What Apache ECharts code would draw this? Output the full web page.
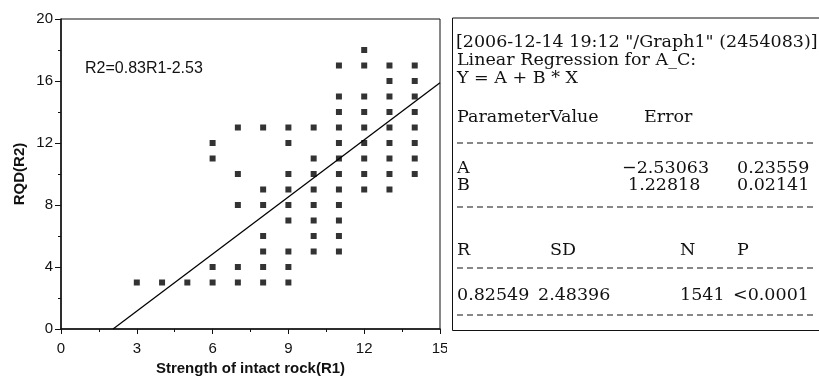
<!DOCTYPE html>
<html>
<head>
<meta charset="utf-8">
<script src="https://cdn.jsdelivr.net/npm/echarts@6/dist/echarts.min.js"></script>
<style>
  html, body { margin: 0; padding: 0; background: #fff; }
  #chart { width: 819px; height: 387px; }
</style>
</head>
<body>
<div id="chart"></div>
<script>
// Intact rock strength (R1) columns and the RQD (R2) values observed in each
const r1Values = [3, 4, 5, 6, 7, 8, 9, 10, 11, 12, 13, 14];
const r2Values = [
  [3],
  [3],
  [3],
  [3, 4, 11, 12],
  [3, 4, 8, 10, 13],
  [3, 4, 5, 6, 8, 9, 13],
  [3, 4, 5, 7, 8, 9, 10, 12, 13],
  [5, 6, 7, 8, 9, 10, 11, 13],
  [5, 6, 7, 8, 9, 10, 11, 12, 13, 14, 15, 17],
  [9, 10, 11, 12, 13, 14, 15, 17, 18],
  [9, 10, 11, 12, 13, 14, 15, 16, 17],
  [10, 11, 12, 13, 14, 15, 16, 17]
];

// Linear fit Y = A + B * X
const fitA = -2.53063;
const fitB = 1.22818;
const fitXMax = 15;

// Axis ranges
const xTicks = { min: 0, max: 15, interval: 3 };
const yTicks = { min: 0, max: 20, interval: 4 };

// Regression report text
const equationLabel = 'R2=0.83R1-2.53';
const reportHeader = [
  '[2006-12-14 19:12 "/Graph1" (2454083)]',
  'Linear Regression for A_C:',
  'Y = A + B * X'
];
const paramHeader = ['ParameterValue', 'Error'];
const paramRows = [
  ['A', '\u22122.53063', '0.23559'],
  ['B', '1.22818', '0.02141']
];
const statHeader = ['R', 'SD', 'N', 'P'];
const statRow = ['0.82549', '2.48396', '1541', '<0.0001'];

const points = [];
r1Values.forEach((x, i) => r2Values[i].forEach(y => points.push([x, y])));
const fitLine = [[-fitA / fitB, 0], [fitXMax, fitA + fitB * fitXMax]];

const serif = '"DejaVu Serif", serif';
const sans = '"Liberation Sans", Arial, sans-serif';
const ink = '#111';

function txt(str, x, y, extra) {
  return Object.assign({
    type: 'text', x: x, y: y, silent: true,
    style: { text: str, fill: ink, font: '17.5px ' + serif, textVerticalAlign: 'middle' }
  }, extra || {});
}
function dash(y) {
  return {
    type: 'line', silent: true,
    shape: { x1: 457, y1: y, x2: 813, y2: y },
    style: { stroke: ink, lineWidth: 1, lineDash: [6, 4] }
  };
}

const graphics = [
  // white margin of the report panel
  { type: 'rect', shape: { x: 447, y: 10, width: 372, height: 377 }, style: { fill: '#fff' }, z: 10 },
  { type: 'polyline', shape: { points: [[819, 18], [452.5, 18], [452.5, 330.5], [819, 330.5]] },
    style: { stroke: ink, lineWidth: 1, fill: null }, z: 11 },
  txt(reportHeader[0], 456, 42),
  txt(reportHeader[1], 457, 60),
  txt(reportHeader[2], 457, 78),
  txt(paramHeader[0], 457, 117),
  txt(paramHeader[1], 644, 117),
  dash(143),
  txt(paramRows[0][0], 457, 168), txt(paramRows[0][1], 622, 168), txt(paramRows[0][2], 737, 168),
  txt(paramRows[1][0], 457, 185), txt(paramRows[1][1], 628, 185), txt(paramRows[1][2], 737, 185),
  dash(207),
  txt(statHeader[0], 457, 250), txt(statHeader[1], 550, 250), txt(statHeader[2], 680, 250), txt(statHeader[3], 737, 250),
  dash(268),
  txt(statRow[0], 457, 295), txt(statRow[1], 538, 295), txt(statRow[2], 680, 295), txt(statRow[3], 733, 295),
  dash(315),
  // fitted equation inside the plot
  { type: 'text', x: 85, y: 69, silent: true, z: 12,
    style: { text: equationLabel, fill: ink, font: '16px ' + sans, textVerticalAlign: 'middle' } }
].map(g => { if (g.z === undefined) g.z = 12; return g; });

const chart = echarts.init(document.getElementById('chart'), null, { renderer: 'canvas' });
chart.setOption({
  animation: false,
  backgroundColor: '#fff',
  grid: {
    left: 61, right: 379, top: 19, bottom: 58,
    show: true, borderColor: ink, borderWidth: 1, backgroundColor: 'transparent'
  },
  xAxis: {
    type: 'value', min: xTicks.min, max: xTicks.max, interval: xTicks.interval,
    name: 'Strength of intact rock(R1)', nameLocation: 'middle', nameGap: 31,
    nameTextStyle: { fontFamily: sans, fontWeight: 'bold', fontSize: 15, color: ink },
    axisLine: { lineStyle: { color: ink, width: 1.5 } },
    axisTick: { inside: false, length: 5, lineStyle: { color: ink } },
    minorTick: { show: true, splitNumber: 2, length: 3, lineStyle: { color: ink } },
    axisLabel: { fontFamily: sans, fontSize: 15, color: ink, margin: 12 },
    splitLine: { show: false }
  },
  yAxis: {
    type: 'value', min: yTicks.min, max: yTicks.max, interval: yTicks.interval,
    name: 'RQD(R2)', nameLocation: 'middle', nameGap: 34, nameRotate: 90,
    nameTextStyle: { fontFamily: sans, fontWeight: 'bold', fontSize: 15, color: ink },
    axisLine: { lineStyle: { color: ink, width: 1.5 } },
    axisTick: { inside: false, length: 6, lineStyle: { color: ink } },
    minorTick: { show: true, splitNumber: 2, length: 3, lineStyle: { color: ink } },
    axisLabel: { fontFamily: sans, fontSize: 15, color: ink, margin: 8 },
    splitLine: { show: false }
  },
  series: [
    {
      type: 'scatter', data: points, symbol: 'rect', symbolSize: 6,
      itemStyle: { color: '#000' }, silent: true
    },
    {
      type: 'line', data: fitLine, showSymbol: false, symbol: 'none',
      lineStyle: { color: '#000', width: 1.3 }, silent: true
    }
  ],
  graphic: graphics
});
</script>
</body>
</html>
